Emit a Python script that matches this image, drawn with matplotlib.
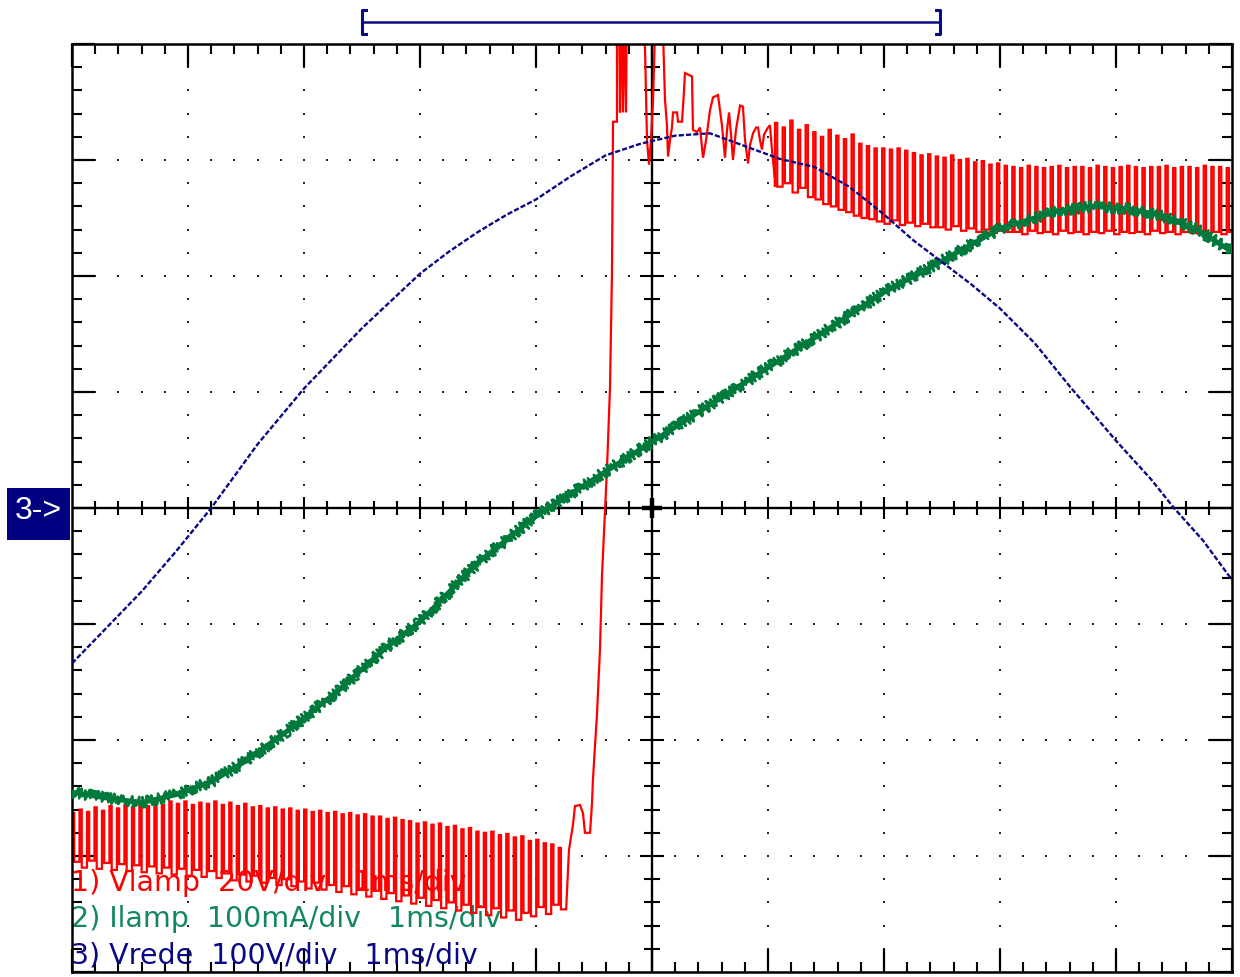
import numpy as np
import matplotlib
matplotlib.use("Agg")
import matplotlib.pyplot as plt
from matplotlib.patches import Rectangle

# Screen: 10 horizontal divisions (1 ms/div), 8 vertical divisions, 0 at centre.

# Channel 3 - mains voltage (divisions)
vrede_t = [0.0, 0.3, 0.6, 0.9, 1.2, 1.6, 2.0, 2.5, 3.0, 3.25, 3.5, 3.75, 4.0, 4.3,
           4.6, 4.9, 5.2, 5.5, 5.8, 6.1, 6.4, 6.7, 7.0, 7.25, 7.5, 7.75, 8.0, 8.3,
           8.6, 9.0, 9.3, 9.5, 9.75, 10.0]
vrede_v = [-1.34, -1.03, -0.72, -0.37, 0.0, 0.55, 1.03, 1.55, 2.02, 2.21, 2.38,
           2.53, 2.66, 2.86, 3.04, 3.14, 3.21, 3.23, 3.12, 3.01, 2.94, 2.77, 2.53,
           2.31, 2.12, 1.93, 1.72, 1.42, 1.05, 0.58, 0.25, 0.0, -0.28, -0.62]

# Channel 2 - lamp current (divisions)
ilamp_t = [0.0, 0.3, 0.6, 0.9, 1.2, 1.5, 1.9, 2.3, 2.7, 3.0, 3.5, 4.0, 4.5, 5.0,
           5.5, 6.0, 6.5, 7.0, 7.5, 8.0, 8.5, 8.8, 9.1, 9.4, 9.7, 10.0]
ilamp_v = [-2.45, -2.50, -2.54, -2.47, -2.36, -2.18, -1.89, -1.57, -1.21, -0.98,
           -0.47, -0.07, 0.25, 0.57, 0.89, 1.21, 1.53, 1.86, 2.13, 2.41, 2.56,
           2.60, 2.58, 2.52, 2.40, 2.21]

# Channel 1 - lamp voltage
# ripple before ignition: per-cycle peak / trough
vlamp_pre_span = (0.0, 4.26)
vlamp_pre_hi = [-2.63, -2.60, -2.62, -2.58, -2.61, -2.57, -2.59, -2.56, -2.58, -2.55, -2.57,
                -2.54, -2.56, -2.53, -2.55, -2.53, -2.56, -2.54, -2.55, -2.53, -2.56, -2.54,
                -2.57, -2.55, -2.58, -2.57, -2.59, -2.58, -2.60, -2.59, -2.61, -2.60, -2.62,
                -2.61, -2.63, -2.62, -2.64, -2.63, -2.65, -2.64, -2.66, -2.66, -2.68, -2.67,
                -2.69, -2.70, -2.72, -2.71, -2.73, -2.72, -2.75, -2.74, -2.77, -2.76, -2.79,
                -2.80, -2.79, -2.82, -2.81, -2.84, -2.83, -2.87, -2.86, -2.89, -2.90, -2.93]
vlamp_pre_lo = [-3.05, -3.10, -3.04, -3.11, -3.06, -3.12, -3.07, -3.13, -3.08, -3.14, -3.09,
                -3.15, -3.10, -3.16, -3.11, -3.17, -3.12, -3.18, -3.13, -3.19, -3.15, -3.21,
                -3.16, -3.22, -3.17, -3.23, -3.19, -3.25, -3.20, -3.26, -3.22, -3.28, -3.23,
                -3.29, -3.25, -3.31, -3.26, -3.33, -3.28, -3.35, -3.30, -3.37, -3.32, -3.39,
                -3.34, -3.41, -3.36, -3.43, -3.38, -3.45, -3.40, -3.47, -3.42, -3.49, -3.44,
                -3.51, -3.45, -3.53, -3.47, -3.55, -3.49, -3.52, -3.44, -3.50, -3.42, -3.46]
# ignition and ringing
vlamp_burst_t = [4.284, 4.319, 4.336, 4.379, 4.405, 4.422, 4.466, 4.483, 4.491, 4.526,
                 4.552, 4.569, 4.595, 4.612, 4.638, 4.655, 4.664, 4.698, 4.698, 4.716,
                 4.724, 4.733, 4.750, 4.759, 4.776, 4.784, 4.914, 4.940, 4.957, 4.974,
                 4.991, 5.009, 5.034, 5.086, 5.112, 5.129, 5.138, 5.155, 5.172, 5.181,
                 5.216, 5.224, 5.259, 5.276, 5.284, 5.345, 5.353, 5.388, 5.414, 5.440,
                 5.466, 5.500, 5.526, 5.569, 5.586, 5.603, 5.629, 5.647, 5.664, 5.681,
                 5.698, 5.724, 5.759, 5.784, 5.802, 5.828, 5.845, 5.871, 5.897, 5.914,
                 5.931, 5.948, 5.966, 6.000, 6.017, 6.034, 6.060]
vlamp_burst_v = [-2.95, -2.73, -2.57, -2.56, -2.63, -2.80, -2.80, -2.54, -2.34, -1.77,
                 -1.21, -0.58, -0.03, 0.34, 1.04, 2.03, 3.33, 3.33, 4.40, 4.40,
                 3.41, 4.40, 3.41, 4.40, 3.41, 4.40, 4.40, 3.95, 3.17, 2.96,
                 3.17, 3.52, 4.40, 4.40, 3.52, 3.30, 3.03, 3.17, 3.28, 3.41,
                 3.41, 3.33, 3.33, 3.60, 3.75, 3.72, 3.26, 3.24, 3.28, 3.02,
                 3.17, 3.43, 3.54, 3.56, 3.43, 3.30, 3.02, 3.26, 3.41, 3.22,
                 3.00, 3.26, 3.47, 3.46, 3.17, 2.97, 3.13, 3.23, 3.28, 3.28,
                 3.17, 3.09, 3.22, 3.28, 3.30, 3.09, 2.83]
# ripple after ignition: per-cycle peak / trough
vlamp_post_span = (6.06, 10.02)
vlamp_post_hi = [3.32, 3.28, 3.34, 3.26, 3.30, 3.24, 3.20, 3.26, 3.21, 3.18,
                 3.22, 3.14, 3.12, 3.10, 3.10, 3.09, 3.10, 3.08, 3.06, 3.04,
                 3.05, 3.03, 3.02, 3.04, 3.00, 3.01, 2.98, 2.99, 2.96, 2.97,
                 2.95, 2.94, 2.93, 2.95, 2.94, 2.93, 2.94, 2.95, 2.93, 2.94,
                 2.94, 2.93, 2.95, 2.94, 2.93, 2.94, 2.95, 2.94, 2.93, 2.94,
                 2.94, 2.95, 2.93, 2.94, 2.94, 2.93, 2.95, 2.94, 2.94, 2.93]
vlamp_post_lo = [2.77, 2.80, 2.72, 2.76, 2.68, 2.66, 2.62, 2.60, 2.57, 2.55,
                 2.52, 2.50, 2.49, 2.47, 2.45, 2.48, 2.44, 2.46, 2.43, 2.45,
                 2.42, 2.42, 2.40, 2.43, 2.39, 2.41, 2.38, 2.40, 2.37, 2.39,
                 2.38, 2.38, 2.36, 2.39, 2.37, 2.38, 2.36, 2.39, 2.37, 2.38,
                 2.36, 2.38, 2.37, 2.39, 2.36, 2.38, 2.37, 2.38, 2.36, 2.39,
                 2.37, 2.38, 2.36, 2.38, 2.37, 2.39, 2.37, 2.38, 2.36, 2.38]

channel_labels = ["1) Vlamp  20V/div   1ms/div",
                  "2) Ilamp  100mA/div   1ms/div",
                  "3) Vrede  100V/div   1ms/div"]
label_rows = [-3.23, -3.54, -3.86]
marker_label = "3->"
window = (2.5, 7.48)

RED = "#ff0000"
GREEN = "#007a3c"
NAVY = "#0a0a84"


def ripple(span, hi, lo, duty):
    """Square-ish ripple trace from per-cycle peak and trough values."""
    t0, t1 = span
    step = (t1 - t0) / len(hi)
    xs, ys = [t0], [lo[0]]
    for i, (h, l) in enumerate(zip(hi, lo)):
        ts = t0 + i * step
        xs += [ts, ts + duty * step, ts + duty * step, ts + step]
        ys += [h, h, l, l]
    return xs, ys


fig = plt.figure(figsize=(12.4, 9.77), dpi=100)
ax = fig.add_axes([72 / 1240, 5 / 977, 1160 / 1240, 928 / 977])
ax.set_xlim(0, 10)
ax.set_ylim(-4, 4)

for sp in ax.spines.values():
    sp.set_linewidth(1.8)
    sp.set_color("black")

ax.set_xticks(np.arange(0, 11, 1))
ax.set_xticks(np.arange(0, 10.01, 0.2), minor=True)
ax.set_yticks(np.arange(-4, 5, 1))
ax.set_yticks(np.arange(-4, 4.01, 0.2), minor=True)
ax.tick_params(which="both", direction="in", top=True, right=True,
               labelbottom=False, labelleft=False, color="black")
ax.tick_params(which="major", length=16.5, width=1.6)
ax.tick_params(which="minor", length=7.5, width=1.5)

# dotted graticule
fine = np.round(np.arange(0.2, 10, 0.2), 3)
fine_y = np.round(np.arange(-3.8, 4, 0.2), 3)
for k in [1, 2, 3, 4, 6, 7, 8, 9]:
    ax.plot(np.full(len(fine_y), k), fine_y, ls="none", marker="s", ms=2.1,
            mew=0, color="#222222", zorder=1)
for k in [-3, -2, -1, 1, 2, 3]:
    ax.plot(fine, np.full(len(fine), k), ls="none", marker="s", ms=2.1,
            mew=0, color="#222222", zorder=1)

# centre axes with their ticks
ax.axhline(0, color="black", lw=1.7, zorder=1.5)
ax.axvline(5, color="black", lw=1.7, zorder=1.5)
minor_x = [v for v in fine if abs(v - round(v)) > 1e-6]
major_x = [v for v in range(1, 10) if v != 5]
minor_y = [v for v in fine_y if abs(v - round(v)) > 1e-6]
major_y = [v for v in range(-3, 4) if v != 0]
ax.plot(minor_x, np.zeros(len(minor_x)), ls="none", marker="|", ms=10, mew=1.5,
        color="black", zorder=1.5)
ax.plot(major_x, np.zeros(len(major_x)), ls="none", marker="|", ms=16, mew=1.5,
        color="black", zorder=1.5)
ax.plot(np.full(len(minor_y), 5), minor_y, ls="none", marker="_", ms=11, mew=1.5,
        color="black", zorder=1.5)
ax.plot(np.full(len(major_y), 5), major_y, ls="none", marker="_", ms=17, mew=1.5,
        color="black", zorder=1.5)
ax.plot([5], [0], ls="none", marker="+", ms=14, mew=3.2, color="black", zorder=1.6)

# channel labels
for text, row, col in zip(channel_labels, label_rows, [RED, "#13885e", NAVY]):
    ax.text(-0.005, row, text, color=col, fontsize=20.5, family="DejaVu Sans",
            va="center", ha="left", zorder=1.8)

# traces
pre_x, pre_y = ripple(vlamp_pre_span, vlamp_pre_hi, vlamp_pre_lo, 0.3)
post_x, post_y = ripple(vlamp_post_span, vlamp_post_hi, vlamp_post_lo, 0.3)
red_x = pre_x + vlamp_burst_t + post_x
red_y = pre_y + vlamp_burst_v + post_y
ax.plot(red_x, red_y, color=RED, lw=1.6, zorder=2, solid_joinstyle="miter")

# current trace: solid core plus a jittered stroke for the noisy edge
ax.plot(ilamp_t, ilamp_v, color=GREEN, lw=3.6, zorder=3)
g, = ax.plot(ilamp_t, ilamp_v, color=GREEN, lw=1.8, zorder=3)
g.set_sketch_params(scale=5.5, length=3.0, randomness=4.0)

ax.plot(vrede_t, vrede_v, color=NAVY, lw=1.7, ls=(0, (2.2, 0.9)), zorder=4)

# acquisition window bracket above the screen
tr = ax.get_xaxis_transform()
y_mid, y_top, y_bot = 1 + 22 / 928, 1 + 34 / 928, 1 + 10 / 928
ax.plot(window, [y_mid, y_mid], transform=tr, clip_on=False, color=NAVY, lw=1.8)
d = 0.035
ax.plot([window[0] + d, window[0], window[0], window[0] + d],
        [y_top, y_top, y_bot, y_bot], transform=tr, clip_on=False, color=NAVY, lw=2.2)
ax.plot([window[1] - d, window[1], window[1], window[1] - d],
        [y_top, y_top, y_bot, y_bot], transform=tr, clip_on=False, color=NAVY, lw=2.2)

# channel 3 ground marker
ax.add_patch(Rectangle((-0.056, 0.4655), 0.0543, 0.056, transform=ax.transAxes,
                       clip_on=False, facecolor="#000080", edgecolor="none"))
ax.text(-0.0289, 0.4968, marker_label, transform=ax.transAxes, color="white",
        fontsize=23, family="Liberation Sans", ha="center", va="center")

fig.savefig("out.png", dpi=100, facecolor="white")
